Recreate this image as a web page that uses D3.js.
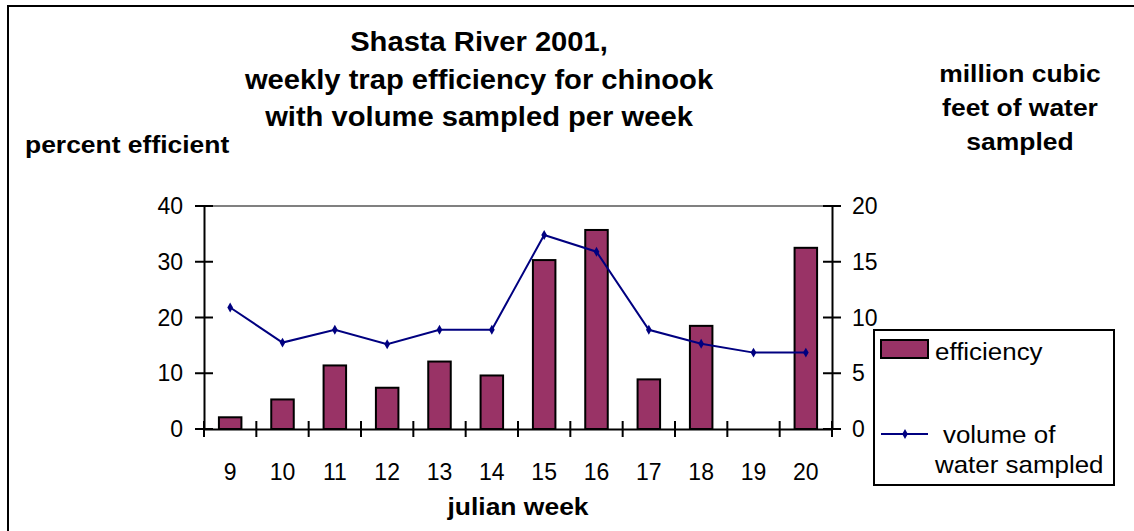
<!DOCTYPE html>
<html>
<head>
<meta charset="utf-8">
<script src="https://cdn.jsdelivr.net/npm/d3@7"></script>
<style>
  html, body { margin: 0; padding: 0; background: #fff; }
  svg { display: block; font-family: "Liberation Sans", Arial, sans-serif; }
</style>
</head>
<body>
<svg id="chart" width="1134" height="531"></svg>
<script>
// julian weeks on the x axis
const weeks = ["9", "10", "11", "12", "13", "14", "15", "16", "17", "18", "19", "20"];
// percent efficient (bars, left axis)
const efficiency = [2.1, 5.3, 11.4, 7.4, 12.1, 9.6, 30.3, 35.7, 8.9, 18.5, 0, 32.5];
// million cubic feet of water sampled (line, right axis)
const volume = [10.9, 7.75, 8.9, 7.6, 8.9, 8.9, 17.4, 15.9, 8.9, 7.65, 6.85, 6.85];
const leftTicks = [0, 10, 20, 30, 40];
const rightTicks = [0, 5, 10, 15, 20];

const svg = d3.select("#chart");
const W = 1134, H = 531;
const plot = {left: 204, right: 832, top: 206, bottom: 429};
const SX = 1.08; // text in the original is a little wide

const barColor = "#993366";
const lineColor = "#000080";

// text helper, stretched sideways a bit like the original
function label(x, y, txt, size, weight, anchor, sx) {
  return svg.append("text")
    .attr("transform", `translate(${x},${y}) scale(${sx || SX},1)`)
    .attr("text-anchor", anchor || "middle")
    .attr("font-size", size)
    .attr("font-weight", weight || "normal")
    .attr("fill", "#000")
    .text(txt);
}

// outer frame (left and top edges only show)
svg.append("path")
  .attr("d", `M8,${H + 5}V6H${W + 5}`)
  .attr("fill", "none")
  .attr("stroke", "#000")
  .attr("stroke-width", 2);

const x = d3.scaleBand().domain(weeks).range([plot.left, plot.right]).paddingInner(0).paddingOuter(0);
const yL = d3.scaleLinear().domain([0, 40]).range([plot.bottom, plot.top]);
const yR = d3.scaleLinear().domain([0, 20]).range([plot.bottom, plot.top]);

// gray line along the top of the plot area
svg.append("line")
  .attr("x1", plot.left).attr("x2", plot.right)
  .attr("y1", yL(40)).attr("y2", yL(40))
  .attr("stroke", "#808080").attr("stroke-width", 2);

// bars
const barW = x.bandwidth() * 0.43;
svg.append("g").selectAll("rect")
  .data(efficiency)
  .join("rect")
  .attr("x", (d, i) => x(weeks[i]) + x.bandwidth() / 2 - barW / 2)
  .attr("y", d => yL(d))
  .attr("width", barW)
  .attr("height", d => yL(0) - yL(d))
  .attr("fill", barColor)
  .attr("stroke", d => d > 0 ? "#000" : "none")
  .attr("stroke-width", 2);

// axes with ticks crossing the lines
const axisL = d3.axisLeft(yL).tickValues(leftTicks).tickSize(0).tickFormat("");
svg.append("g").attr("transform", `translate(${plot.left},0)`).call(axisL)
  .call(g => g.select(".domain").attr("stroke", "#000").attr("stroke-width", 2));
svg.append("g").selectAll("line").data(leftTicks).join("line")
  .attr("x1", plot.left - 9).attr("x2", plot.left + 9)
  .attr("y1", d => yL(d)).attr("y2", d => yL(d))
  .attr("stroke", "#000").attr("stroke-width", 2);
leftTicks.forEach(t => label(183, yL(t) + 8, t, 23, "normal", "end", 1));

const axisR = d3.axisRight(yR).tickValues(rightTicks).tickSize(0).tickFormat("");
svg.append("g").attr("transform", `translate(${plot.right},0)`).call(axisR)
  .call(g => g.select(".domain").attr("stroke", "#000").attr("stroke-width", 2));
svg.append("g").selectAll("line").data(rightTicks).join("line")
  .attr("x1", plot.right - 9).attr("x2", plot.right + 9)
  .attr("y1", d => yR(d)).attr("y2", d => yR(d))
  .attr("stroke", "#000").attr("stroke-width", 2);
rightTicks.forEach(t => label(852, yR(t) + 8, t, 23, "normal", "start", 1));

const axisB = d3.axisBottom(x).tickSize(0).tickFormat("");
svg.append("g").attr("transform", `translate(0,${plot.bottom})`).call(axisB)
  .call(g => g.select(".domain").attr("stroke", "#000").attr("stroke-width", 2));
const edges = weeks.map(w => x(w)).concat([plot.right]);
svg.append("g").selectAll("line").data(edges).join("line")
  .attr("x1", d => d).attr("x2", d => d)
  .attr("y1", plot.bottom - 8).attr("y2", plot.bottom + 8)
  .attr("stroke", "#000").attr("stroke-width", 2);
weeks.forEach(w => label(x(w) + x.bandwidth() / 2, 480, w, 23, "normal", "middle", 1));

// volume line with small diamond markers
const line = d3.line()
  .x((d, i) => x(weeks[i]) + x.bandwidth() / 2)
  .y(d => yR(d));
svg.append("path")
  .datum(volume)
  .attr("d", line)
  .attr("fill", "none")
  .attr("stroke", lineColor)
  .attr("stroke-width", 2);
const diamond = d3.symbol().type(d3.symbolDiamond).size(28);
svg.append("g").selectAll("path")
  .data(volume)
  .join("path")
  .attr("d", diamond)
  .attr("transform", (d, i) => `translate(${x(weeks[i]) + x.bandwidth() / 2},${yR(d)})`)
  .attr("fill", lineColor);

// titles
label(479, 51, "Shasta River 2001,", 27, "bold");
label(479, 89, "weekly trap efficiency for chinook", 27, "bold");
label(479, 126, "with volume sampled per week", 27, "bold");
label(25, 153, "percent efficient", 24.5, "bold", "start");
label(1020, 82, "million cubic", 24.5, "bold");
label(1020, 116, "feet of water", 24.5, "bold");
label(1020, 150, "sampled", 24.5, "bold");
label(518, 515, "julian week", 24.5, "bold");

// legend
svg.append("rect")
  .attr("x", 874).attr("y", 330).attr("width", 240).attr("height", 155)
  .attr("fill", "#fff").attr("stroke", "#000").attr("stroke-width", 2);
svg.append("rect")
  .attr("x", 881).attr("y", 340).attr("width", 47).attr("height", 18)
  .attr("fill", barColor).attr("stroke", "#000").attr("stroke-width", 2);
label(935, 360, "efficiency", 24, "normal", "start");
svg.append("line")
  .attr("x1", 881).attr("x2", 928).attr("y1", 434).attr("y2", 434)
  .attr("stroke", lineColor).attr("stroke-width", 2);
svg.append("path").attr("d", diamond).attr("transform", "translate(905,434)").attr("fill", lineColor);
label(943, 443, "volume of", 24, "normal", "start");
label(935, 473, "water sampled", 24, "normal", "start");
</script>
</body>
</html>
